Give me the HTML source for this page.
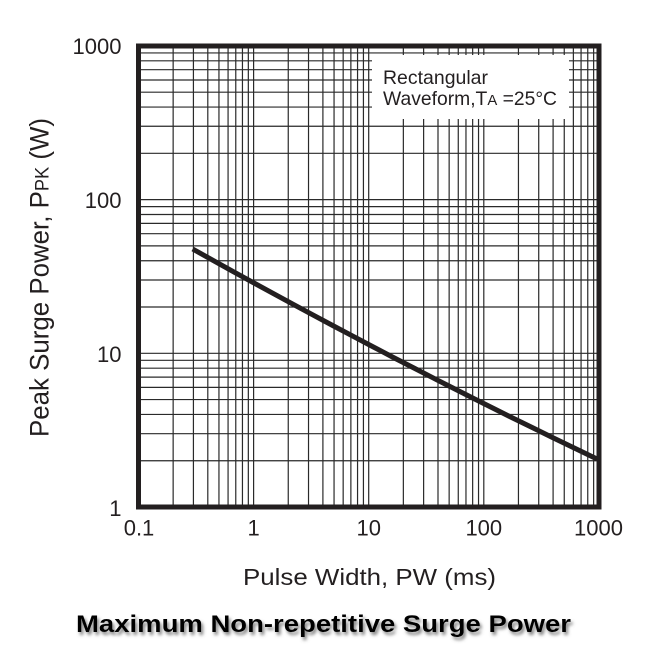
<!DOCTYPE html>
<html>
<head>
<meta charset="utf-8">
<style>
  html,body{margin:0;padding:0;background:#fff;}
  svg{display:block;}
  text{font-family:"Liberation Sans",Arial,sans-serif;fill:#231f20;}
</style>
</head>
<body>
<svg width="650" height="660" viewBox="0 0 650 660" xmlns="http://www.w3.org/2000/svg">
  <defs>
    <filter id="sh" x="-5%" y="-30%" width="110%" height="180%">
      <feDropShadow dx="2" dy="3" stdDeviation="1.6" flood-color="#777" flood-opacity="0.9"/>
    </filter>
  </defs>
  <rect width="650" height="660" fill="#fff"/>
  <!-- grid -->
  <g stroke="#2a2a2a" stroke-width="1.2" fill="none">
    <path d="M173.15 46V507M193.42 46V507M207.8 46V507M218.95 46V507M228.07 46V507M235.77 46V507M242.45 46V507M248.33 46V507
             M253.6 46V507M288.25 46V507M308.52 46V507M322.9 46V507M334.05 46V507M343.17 46V507M350.87 46V507M357.55 46V507M363.43 46V507
             M368.7 46V507M403.35 46V507M423.62 46V507M438 46V507M449.15 46V507M458.27 46V507M465.97 46V507M472.65 46V507M478.53 46V507
             M483.8 46V507M518.45 46V507M538.72 46V507M553.1 46V507M564.25 46V507M573.37 46V507M581.07 46V507M587.75 46V507M593.63 46V507"/>
    <path d="M138.5 460.73H599M138.5 433.67H599M138.5 414.46H599M138.5 399.57H599M138.5 387.4H599M138.5 377.11H599M138.5 368.19H599M138.5 360.33H599
             M138.5 353.3H599M138.5 307.03H599M138.5 279.97H599M138.5 260.76H599M138.5 245.87H599M138.5 233.7H599M138.5 223.41H599M138.5 214.49H599M138.5 206.63H599
             M138.5 199.6H599M138.5 153.33H599M138.5 126.27H599M138.5 107.06H599M138.5 92.17H599M138.5 80H599M138.5 69.71H599M138.5 60.79H599M138.5 52.93H599"/>
  </g>
  <!-- legend box -->
  <rect x="372" y="55" width="197" height="64" fill="#fff"/>
  <text x="383" y="84" font-size="19.5" textLength="105" lengthAdjust="spacingAndGlyphs">Rectangular</text>
  <text x="383" y="105" font-size="19.5" textLength="174" lengthAdjust="spacingAndGlyphs">Waveform,T<tspan font-size="15">A</tspan> =25°C</text>

  <!-- curve -->
  <polyline fill="none" stroke="#231f20" stroke-width="5" stroke-linejoin="round"
    points="192.7,249 212.7,260.2 232.7,271.3 252.7,282.3 272.7,293.2 292.7,304.1 312.7,314.8 332.7,325.5 352.7,336.1 372.7,346.6 392.7,357.1 412.7,367.4 432.7,377.7 452.7,387.9 472.7,398 492.7,408 512.7,418 532.7,427.8 552.7,437.6 572.7,447.3 597,459"/>

  <!-- frame -->
  <rect x="138.5" y="46" width="460.5" height="461" fill="none" stroke="#231f20" stroke-width="5"/>

  <!-- y tick labels -->
  <g font-size="22" text-anchor="end">
    <text x="121.5" y="54">1000</text>
    <text x="121.5" y="208">100</text>
    <text x="121.5" y="362">10</text>
    <text x="121.5" y="516">1</text>
  </g>
  <!-- x tick labels -->
  <g font-size="22" text-anchor="middle">
    <text x="139" y="535.5">0.1</text>
    <text x="253.6" y="535.5">1</text>
    <text x="368.7" y="535.5">10</text>
    <text x="483.8" y="535.5">100</text>
    <text x="598.5" y="535.5">1000</text>
  </g>

  <!-- axis titles -->
  <text x="243" y="585" font-size="23.5" textLength="253" lengthAdjust="spacingAndGlyphs">Pulse Width, PW (ms)</text>
  <text transform="translate(48.5,437) rotate(-90)" x="0" y="0" font-size="27" textLength="319" lengthAdjust="spacingAndGlyphs">Peak Surge Power, P<tspan font-size="19">PK</tspan> (W)</text>

  <!-- bottom title -->
  <text x="76" y="632" font-size="24.5" font-weight="bold" style="fill:#000" filter="url(#sh)" textLength="495" lengthAdjust="spacingAndGlyphs">Maximum Non-repetitive Surge Power</text>
</svg>
</body>
</html>
